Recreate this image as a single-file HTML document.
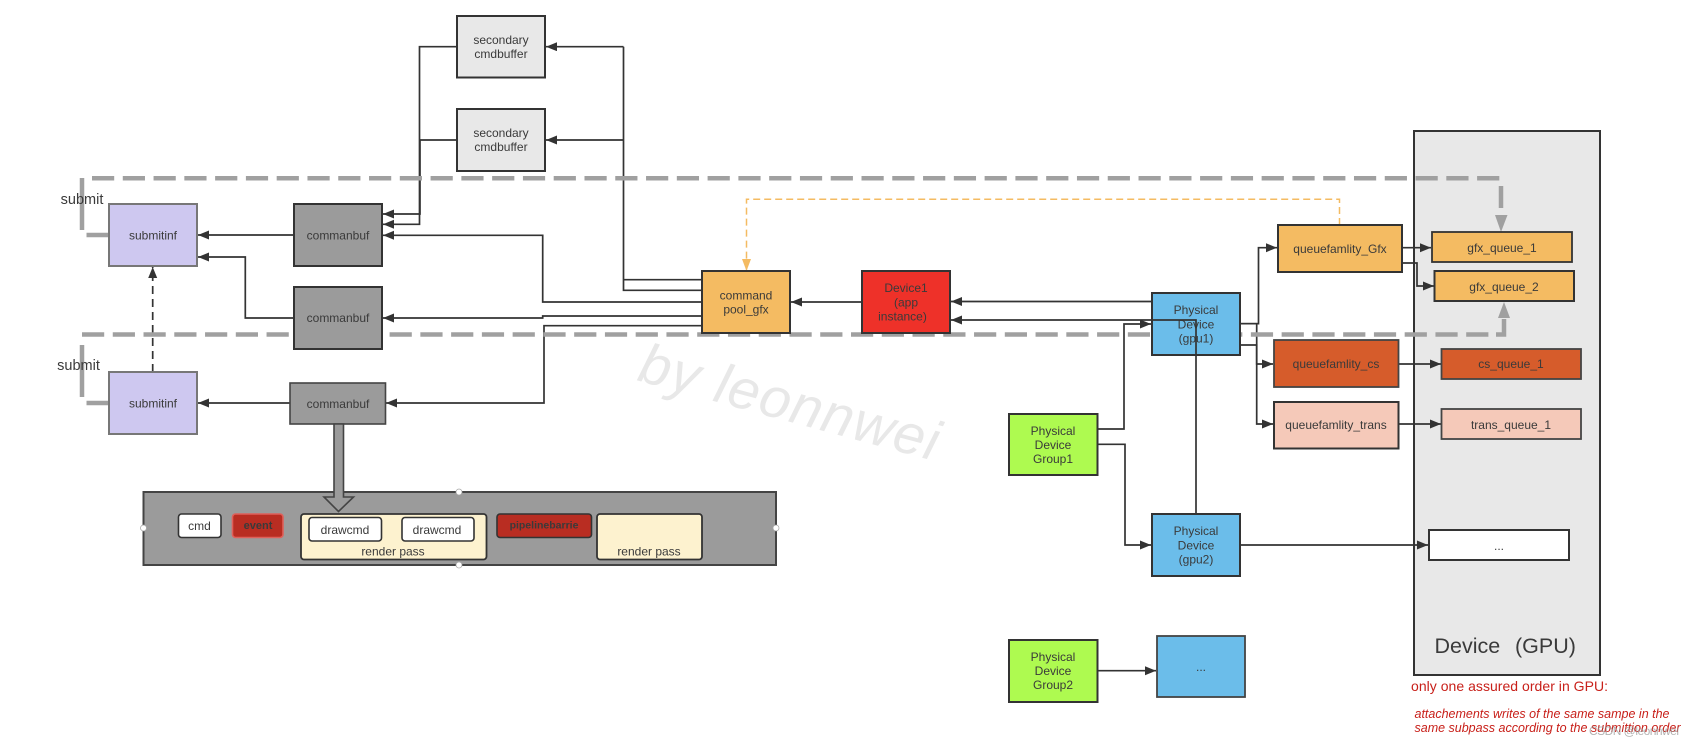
<!DOCTYPE html>
<html><head><meta charset="utf-8"><title>Vulkan diagram</title>
<style>
html,body{margin:0;padding:0;background:#fff;width:1694px;height:744px;overflow:hidden}
svg{display:block;filter:blur(.35px)}
text{font-family:"Liberation Sans","Noto Sans CJK SC",sans-serif;font-size:12px;fill:#3a3a3a;text-anchor:middle;dominant-baseline:central}
.l{fill:none;stroke:#333;stroke-width:1.7}
.b{stroke:#333;stroke-width:2}
</style></head><body>
<svg width="1694" height="744" viewBox="0 0 1694 744" xmlns="http://www.w3.org/2000/svg">
<defs>
<marker id="a" markerUnits="userSpaceOnUse" markerWidth="12" markerHeight="10" refX="11" refY="4.5" orient="auto"><path d="M0 0L11 4.5L0 9z" fill="#333"/></marker>
<marker id="o" markerUnits="userSpaceOnUse" markerWidth="13" markerHeight="10" refX="12" refY="4.5" orient="auto"><path d="M0 0L12 4.5L0 9z" fill="#f4bb62"/></marker>
</defs>

<!-- watermark -->
<text transform="translate(636,380) rotate(15.2)" style="font-size:56px;font-style:italic;fill:#e8e8e8;text-anchor:start;dominant-baseline:alphabetic" textLength="308" lengthAdjust="spacing">by leonnwei</text>

<!-- GPU device -->
<rect x="1414" y="131" width="186" height="544" fill="#e8e8e8" class="b"/>
<text x="1434.500" y="646" style="font-size:21.500px;text-anchor:start">Device</text>
<text x="1515" y="646" style="font-size:21.500px;text-anchor:start">(GPU)</text>

<!-- connectors under boxes -->
<g class="l">
<path d="M457 46.7H419.5V224.3H383" marker-end="url(#a)"/>
<path d="M457 140H420V214H383" marker-end="url(#a)"/>
<path d="M623.5 46.7H546" marker-end="url(#a)"/>
<path d="M623.5 140H546" marker-end="url(#a)"/>
<path d="M623.5 46.7V290.3H702"/>
<path d="M623.5 279.7H702"/>
<path d="M702 302H542.7V235.3H383" marker-end="url(#a)"/>
<path d="M702 316H542.7V318H383" marker-end="url(#a)"/>
<path d="M702 325.7H544V403H386" marker-end="url(#a)"/>
<path d="M294 235H198" marker-end="url(#a)"/>
<path d="M294 318H245.3V257H198" marker-end="url(#a)"/>
<path d="M290 403H198" marker-end="url(#a)"/>
<path d="M862 302H791" marker-end="url(#a)"/>
<path d="M1152 301.5H951" marker-end="url(#a)"/>
<path d="M1097 429H1124V324H1151" marker-end="url(#a)"/>
<path d="M1097 444.3H1125V545H1151" marker-end="url(#a)"/>
<path d="M1097 670.7H1156" marker-end="url(#a)"/>
<path d="M1240 323.7H1258.500V247.7H1277" marker-end="url(#a)"/>
<path d="M1240 345H1256.700V364H1273" marker-end="url(#a)"/>
<path d="M1240 323.7H1256.700V424H1273" marker-end="url(#a)"/>
<path d="M1402 247.7H1431" marker-end="url(#a)"/>
<path d="M1402 263H1417V286H1434" marker-end="url(#a)"/>
<path d="M1398 364H1441" marker-end="url(#a)"/>
<path d="M1398 424H1441" marker-end="url(#a)"/>
<path d="M1240 545H1428" marker-end="url(#a)"/>
</g>
<path d="M1339.5 225V199.3H746.5V271" fill="none" stroke="#f4bb62" stroke-width="1.5" stroke-dasharray="7 4" marker-end="url(#o)"/>
<path d="M152.7 372V267" fill="none" stroke="#333" stroke-width="1.7" stroke-dasharray="8 5" marker-end="url(#a)"/>

<!-- thick gray dashed submit paths -->
<g fill="none" stroke="#a0a0a0" stroke-width="4.5">
<path d="M92 178.3H1500" stroke-dasharray="22.2 8.58"/>
<path d="M82 178V230"/>
<path d="M86.5 235H109"/>
<path d="M1501 186V208"/>
<path d="M82 334.5H1489" stroke-dasharray="22.2 8.56"/>
<path d="M1496 334.5H1504V319"/>
<path d="M82 345V397"/>
<path d="M86.5 403H109"/>
</g>
<path d="M1495 215H1507.5L1501 232z" fill="#a0a0a0"/>
<path d="M1498 318H1510L1504 302z" fill="#a0a0a0"/>

<text x="82" y="200" style="font-size:14.5px">submit</text>
<text x="78.5" y="366" style="font-size:14.5px">submit</text>

<!-- boxes -->
<rect x="457" y="16" width="88" height="61.5" fill="#e8e8e8" class="b"/>
<text x="501" y="40">secondary</text><text x="501" y="54">cmdbuffer</text>
<rect x="457" y="109" width="88" height="62" fill="#e8e8e8" class="b"/>
<text x="501" y="133">secondary</text><text x="501" y="147">cmdbuffer</text>

<rect x="109" y="204" width="88" height="62" fill="#cec8f0" stroke="#777" stroke-width="2"/>
<text x="153" y="235.5">submitinf</text>
<rect x="294" y="204" width="88" height="62" fill="#9b9b9b" class="b"/>
<text x="338" y="235.5">commanbuf</text>
<rect x="294" y="287" width="88" height="62" fill="#9b9b9b" class="b"/>
<text x="338" y="318">commanbuf</text>
<rect x="109" y="372" width="88" height="62" fill="#cec8f0" stroke="#777" stroke-width="2"/>
<text x="153" y="403.5">submitinf</text>
<rect x="290" y="383" width="95.5" height="41" fill="#9b9b9b" stroke="#444" stroke-width="1.6"/>
<text x="338" y="404">commanbuf</text>

<rect x="702" y="271" width="88" height="62" fill="#f4bb62" class="b"/>
<text x="746" y="295.5">command</text><text x="746" y="309.5">pool_gfx</text>
<rect x="862" y="271" width="88" height="62" fill="#ee3129" class="b"/>
<text x="906" y="288">Device1</text><text x="906" y="302.5">(app</text><text x="902.5" y="316.5">instance)</text>

<rect x="1152" y="293" width="88" height="62" fill="#6bbdea" class="b"/>
<text x="1196" y="310">Physical</text><text x="1196" y="324.5">Device</text><text x="1196" y="338.5">(gpu1)</text>
<rect x="1152" y="514" width="88" height="62" fill="#6bbdea" class="b"/>
<text x="1196" y="531">Physical</text><text x="1196" y="545.5">Device</text><text x="1196" y="559.5">(gpu2)</text>
<rect x="1157" y="636" width="88" height="61" fill="#6bbdea" stroke="#444" stroke-width="1.8"/>
<text x="1201" y="667">...</text>

<rect x="1009" y="414" width="88.5" height="61" fill="#aefa50" class="b"/>
<text x="1053" y="431">Physical</text><text x="1053" y="445">Device</text><text x="1053" y="459">Group1</text>
<rect x="1009" y="640" width="88.5" height="62" fill="#aefa50" class="b"/>
<text x="1053" y="657">Physical</text><text x="1053" y="671">Device</text><text x="1053" y="685">Group2</text>

<rect x="1278" y="225" width="124" height="47" fill="#f4bb62" class="b"/>
<text x="1340" y="249">queuefamlity_Gfx</text>
<rect x="1274" y="340" width="124.5" height="47" fill="#d65c2b" stroke="#444" stroke-width="1.8"/>
<text x="1336" y="364">queuefamlity_cs</text>
<rect x="1274" y="402" width="124.5" height="46.500" fill="#f5c9b9" class="b"/>
<text x="1336" y="425">queuefamlity_trans</text>

<rect x="1432" y="232" width="140" height="30" fill="#f4bb62" stroke="#333" stroke-width="1.8"/>
<text x="1502" y="248">gfx_queue_1</text>
<rect x="1434.500" y="271" width="139.500" height="30" fill="#f4bb62" class="b"/>
<text x="1504" y="287">gfx_queue_2</text>
<rect x="1441.500" y="349" width="139.500" height="30" fill="#d65c2b" stroke="#444" stroke-width="1.8"/>
<text x="1511" y="364">cs_queue_1</text>
<rect x="1441.500" y="409" width="139.500" height="30" fill="#f5c9b9" stroke="#444" stroke-width="1.8"/>
<text x="1511" y="425">trans_queue_1</text>
<rect x="1429" y="530" width="140" height="30" fill="#fff" class="b"/>
<text x="1499" y="546">...</text>

<!-- line over physical device -->
<path d="M1196 514V320H951" class="l" stroke-width="1.5" marker-end="url(#a)"/>

<!-- render pass strip -->
<rect x="143.500" y="492" width="632.500" height="73" fill="#9b9b9b" stroke="#444" stroke-width="2"/>
<g fill="#fff" stroke="#aaa" stroke-width="0.8">
<circle cx="459" cy="492" r="3"/><circle cx="459" cy="565" r="3"/><circle cx="143.500" cy="528" r="3"/><circle cx="776" cy="528" r="3"/>
</g>
<rect x="178.500" y="514" width="42.500" height="23.500" rx="3" fill="#fff" stroke="#333" stroke-width="1.6"/>
<text x="199.500" y="526">cmd</text>
<rect x="232.500" y="514" width="50.500" height="23.500" rx="3" fill="#b92d22" stroke="#e0605a" stroke-width="1.6"/>
<text x="258" y="526" style="font-weight:bold;font-size:11px">event</text>
<rect x="301" y="514" width="185.500" height="45.500" rx="3" fill="#fdf2cf" stroke="#333" stroke-width="1.8"/>
<rect x="309" y="517.500" width="72.500" height="23.500" rx="3" fill="#fff" stroke="#333" stroke-width="1.6"/>
<text x="345" y="530">drawcmd</text>
<rect x="402" y="517.500" width="72" height="23.500" rx="3" fill="#fff" stroke="#333" stroke-width="1.6"/>
<text x="437" y="530">drawcmd</text>
<text x="393" y="551.500">render pass</text>
<rect x="497" y="514" width="94.500" height="23.500" rx="3" fill="#b92d22" stroke="#333" stroke-width="1.6"/>
<text x="544" y="525.500" style="font-weight:bold;font-size:10.500px">pipelinebarrie</text>
<rect x="597" y="514" width="105" height="45.500" rx="3" fill="#fdf2cf" stroke="#333" stroke-width="1.8"/>
<text x="649" y="551.500">render pass</text>

<!-- big arrow -->
<path d="M334 424H343.500V497H353.500L338.500 511.500L324 497H334z" fill="#9b9b9b" stroke="#444" stroke-width="1.6"/>

<!-- red notes -->
<text x="1411" y="686" style="text-anchor:start;font-size:14px;fill:#c8201a" textLength="197" lengthAdjust="spacing">only one assured order in GPU:</text>
<text x="1414.500" y="714" style="text-anchor:start;font-size:12.500px;font-style:italic;fill:#c8201a" textLength="255" lengthAdjust="spacing">attachements writes of the same sampe in the</text>
<text x="1414.500" y="728" style="text-anchor:start;font-size:12.500px;font-style:italic;fill:#c8201a" textLength="266" lengthAdjust="spacing">same subpass according to the submittion order</text>
<text x="1589" y="731" style="text-anchor:start;font-size:12px;fill:#999;opacity:.75" textLength="90" lengthAdjust="spacing">CSDN @leonnwei</text>
</svg>
</body></html>
